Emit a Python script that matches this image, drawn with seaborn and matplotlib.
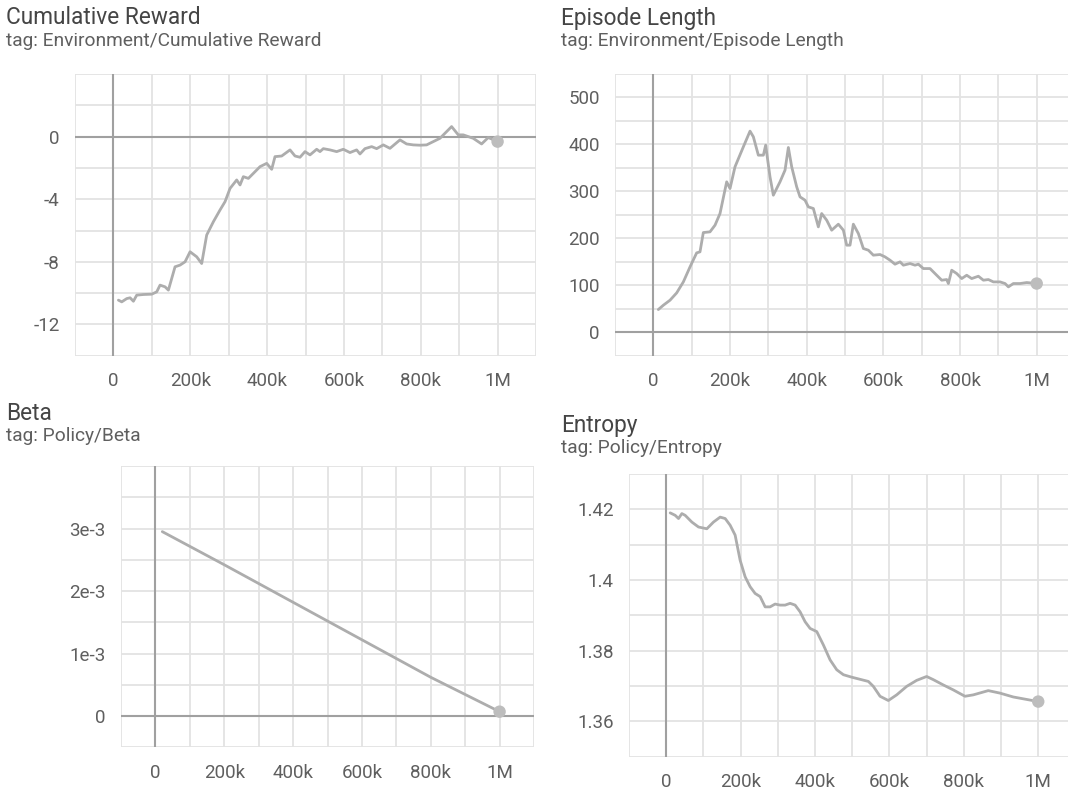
import matplotlib
matplotlib.use("Agg")
import matplotlib.pyplot as plt
import seaborn as sns
import pandas as pd
from matplotlib.ticker import FixedLocator, FixedFormatter, NullFormatter

sns.set_style("white")
plt.rcParams['font.family'] = ['Roboto', 'DejaVu Sans']

# ---------------- data ----------------
reward_steps_k = [13.0, 21.7, 34.7, 43.4, 52.0, 60.7, 78.1, 99.7, 112.7, 121.4, 134.4, 143.1,
                  160.4, 173.5, 186.5, 199.5, 216.8, 229.8, 242.8, 260.2, 277.5, 290.5, 303.6,
                  320.9, 329.6, 338.2, 351.3, 364.3, 381.6, 399.0, 412.0, 420.6, 438.0, 459.7,
                  472.7, 485.7, 498.7, 511.7, 529.1, 537.7, 546.4, 563.7, 581.1, 598.4, 615.8,
                  633.1, 641.8, 654.8, 672.2, 685.2, 702.5, 719.9, 745.9, 763.2, 780.6, 797.9,
                  815.3, 832.6, 850.0, 880.3, 897.7, 910.7, 936.7, 958.4, 975.7, 1000.0]
reward_values = [-10.45, -10.56, -10.35, -10.30, -10.52, -10.13, -10.09, -10.07, -9.92, -9.49,
                 -9.60, -9.81, -8.32, -8.21, -8.00, -7.36, -7.68, -8.11, -6.29, -5.44, -4.69,
                 -4.16, -3.31, -2.77, -3.09, -2.56, -2.67, -2.35, -1.92, -1.71, -2.09, -1.28,
                 -1.24, -0.85, -1.24, -1.32, -0.96, -1.17, -0.81, -0.96, -0.77, -0.85, -0.96,
                 -0.81, -1.02, -0.85, -1.11, -0.77, -0.64, -0.77, -0.53, -0.75, -0.21, -0.47,
                 -0.53, -0.55, -0.53, -0.32, -0.11, 0.64, 0.11, 0.11, -0.11, -0.47, -0.06, -0.32]

length_steps_k = [13.0, 26.1, 43.5, 60.9, 78.3, 95.7, 113.0, 121.7, 130.4, 147.8, 160.9, 173.9,
                  191.3, 200.0, 213.0, 234.8, 252.2, 260.9, 273.9, 287.0, 293.0, 304.3, 313.0,
                  330.4, 343.5, 352.2, 360.9, 373.9, 382.6, 395.7, 404.3, 417.4, 430.4, 439.1,
                  452.2, 465.2, 482.6, 495.7, 504.3, 513.0, 521.7, 534.8, 547.8, 560.9, 573.9,
                  591.3, 604.3, 617.4, 630.4, 643.5, 652.2, 669.6, 682.6, 691.3, 704.3, 721.7,
                  739.1, 752.2, 765.2, 769.6, 778.3, 791.3, 804.3, 817.4, 830.4, 847.8, 860.9,
                  873.9, 887.0, 904.3, 917.4, 926.1, 939.1, 956.5, 973.9, 1000.0]
length_values = [48.3, 57.5, 68.2, 83.8, 107.2, 139.2, 169.0, 171.2, 212.3, 213.8, 228.0, 252.8,
                 320.3, 306.1, 352.3, 394.9, 428.3, 416.2, 377.1, 377.1, 398.4, 331.0, 291.9,
                 320.3, 345.2, 393.5, 352.3, 309.7, 288.3, 281.2, 267.0, 263.5, 224.4, 252.8,
                 238.6, 217.3, 230.1, 217.3, 185.4, 185.4, 230.1, 210.2, 178.3, 174.7, 164.1,
                 165.5, 160.5, 153.4, 144.9, 149.9, 142.8, 146.3, 142.8, 144.9, 135.6, 135.6,
                 121.4, 110.8, 112.2, 103.7, 132.1, 125.0, 114.3, 121.4, 114.3, 119.3, 110.8,
                 112.2, 107.2, 107.2, 103.7, 96.6, 103.7, 103.7, 105.8, 103.7]

beta_steps_k = [20.0, 200.0, 400.0, 600.0, 800.0, 1000.0]
beta_values = [2.95e-3, 2.42e-3, 1.82e-3, 1.22e-3, 0.62e-3, 0.07e-3]

entropy_steps_k = [10.7, 24.2, 33.1, 42.1, 51.0, 68.9, 86.8, 109.2, 127.1, 145.0, 158.5, 171.9,
                   185.3, 198.7, 212.2, 225.6, 239.0, 252.5, 265.9, 279.3, 292.7, 306.2, 319.6,
                   333.0, 346.5, 359.9, 373.3, 386.8, 404.7, 422.6, 440.5, 458.4, 476.3, 498.7,
                   521.0, 543.4, 556.8, 574.8, 597.1, 619.5, 646.4, 673.2, 700.1, 718.0, 744.9,
                   771.7, 803.0, 825.4, 865.7, 897.0, 932.9, 1000.0]
entropy_values = [1.4190, 1.4183, 1.4174, 1.4188, 1.4183, 1.4164, 1.4150, 1.4145, 1.4164, 1.4178,
                  1.4174, 1.4155, 1.4127, 1.4056, 1.4009, 1.3981, 1.3962, 1.3953, 1.3924, 1.3924,
                  1.3932, 1.3929, 1.3929, 1.3934, 1.3929, 1.3910, 1.3882, 1.3863, 1.3854, 1.3816,
                  1.3774, 1.3746, 1.3732, 1.3725, 1.3719, 1.3713, 1.3699, 1.3671, 1.3659, 1.3675,
                  1.3699, 1.3716, 1.3727, 1.3718, 1.3703, 1.3689, 1.3671, 1.3675, 1.3687, 1.3680,
                  1.3669, 1.3656]

titles = ["Cumulative Reward", "Episode Length", "Beta", "Entropy"]
subtitles = ["tag: Environment/Cumulative Reward", "tag: Environment/Episode Length",
             "tag: Policy/Beta", "tag: Policy/Entropy"]
x_tick_labels = ["0", "200k", "400k", "600k", "800k", "1M"]

# ---------------- style ----------------
LINE = "#adadad"
MARK = "#bdbdbd"
GRID = "#e3e3e3"
ZERO = "#a0a0a0"
TXT = "#5f5f5f"
TITLE = "#454545"

W, H = 1068, 792
fig = plt.figure(figsize=(W / 100, H / 100), dpi=100)


def add_ax(left, top, right, bottom):
    return fig.add_axes([left / W, 1 - bottom / H, (right - left) / W, (bottom - top) / H])


def style(ax, xlim, ylim, ymajor, ylabels, yminor, xmax_minor):
    ax.set_xlim(*xlim)
    ax.set_ylim(*ylim)
    xmaj = [0, 200e3, 400e3, 600e3, 800e3, 1000e3]
    xmin = [v for v in [-100e3, 100e3, 300e3, 500e3, 700e3, 900e3, 1100e3] if v <= xmax_minor]
    ax.xaxis.set_major_locator(FixedLocator(xmaj))
    ax.xaxis.set_major_formatter(FixedFormatter(x_tick_labels))
    ax.xaxis.set_minor_locator(FixedLocator(xmin))
    ax.xaxis.set_minor_formatter(NullFormatter())
    ax.yaxis.set_major_locator(FixedLocator(ymajor))
    ax.yaxis.set_major_formatter(FixedFormatter(ylabels))
    ax.yaxis.set_minor_locator(FixedLocator(yminor))
    ax.yaxis.set_minor_formatter(NullFormatter())
    ax.grid(True, which="both", color=GRID, linewidth=1.3)
    ax.set_axisbelow(True)
    for s in ax.spines.values():
        s.set_visible(False)
    ax.tick_params(which="both", length=6, width=1.3, color=GRID, labelcolor=TXT,
                   labelsize=13.5, pad=5)
    ax.tick_params(axis="x", which="both", pad=6)
    ax.set_xlabel("")
    ax.set_ylabel("")


def plot(ax, steps_k, values, lw=2.0):
    df = pd.DataFrame({"step": [s * 1000 for s in steps_k], "value": values})
    sns.lineplot(data=df, x="step", y="value", ax=ax, color=LINE, linewidth=lw, zorder=3)
    sns.scatterplot(data=df.iloc[[-1]], x="step", y="value", ax=ax, color=MARK, s=80,
                    edgecolor="none", zorder=4)


# Panel 1: cumulative reward
ax1 = add_ax(75, 74, 536, 355.7)
ax1.axvline(0, color=ZERO, linewidth=1.5, zorder=2)
ax1.axhline(0, color=ZERO, linewidth=1.5, zorder=2)
plot(ax1, reward_steps_k, reward_values)
style(ax1, (-100e3, 1100e3), (-14, 4), [-12, -8, -4, 0], ["-12", "-8", "-4", "0"],
      [-14, -10, -6, -2, 2, 4], 1100e3)

# Panel 2: episode length
ax2 = add_ax(615, 74, 1068, 355.7)
ax2.axvline(0, color=ZERO, linewidth=1.5, zorder=2)
ax2.axhline(0, color=ZERO, linewidth=1.5, zorder=2)
plot(ax2, length_steps_k, length_values)
style(ax2, (-100e3, 1081.6e3), (-50, 550), [0, 100, 200, 300, 400, 500],
      ["0", "100", "200", "300", "400", "500"], [-50, 50, 150, 250, 350, 450, 550], 1000e3)

# Panel 3: beta
ax3 = add_ax(121, 466, 534, 747.3)
ax3.axvline(0, color=ZERO, linewidth=1.5, zorder=2)
ax3.axhline(0, color=ZERO, linewidth=1.5, zorder=2)
plot(ax3, beta_steps_k, beta_values, lw=2.0)
style(ax3, (-100e3, 1100e3), (-0.5e-3, 4e-3), [0, 1e-3, 2e-3, 3e-3],
      ["0", "1e-3", "2e-3", "3e-3"], [-0.5e-3, 0.5e-3, 1.5e-3, 2.5e-3, 3.5e-3, 4e-3], 1100e3)

# Panel 4: entropy
ax4 = add_ax(629, 474, 1068, 756.7)
ax4.axvline(0, color=ZERO, linewidth=1.5, zorder=2)
plot(ax4, entropy_steps_k, entropy_values)
style(ax4, (-100e3, 1080e3), (1.35, 1.43), [1.36, 1.38, 1.40, 1.42],
      ["1.36", "1.38", "1.4", "1.42"], [1.35, 1.37, 1.39, 1.41, 1.43], 1000e3)

# Titles
title_pos = [(6, 18, 41), (561, 18, 41), (6, 413, 436), (561, 425, 448)]
for (x, yt, ys), t, st in zip(title_pos, titles, subtitles):
    fig.text(x / W, 1 - yt / H, t, fontsize=16.3, color=TITLE, ha="left", va="center")
    fig.text(x / W, 1 - ys / H, st, fontsize=13.8, color=TXT, ha="left", va="center")

fig.savefig("out.png", dpi=100, facecolor="white")
